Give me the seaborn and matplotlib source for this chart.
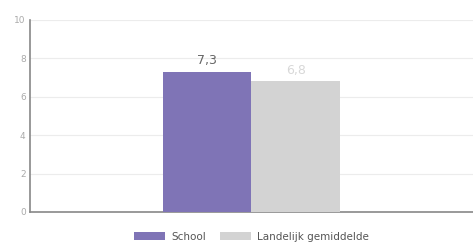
import matplotlib
matplotlib.use("Agg")
import matplotlib.pyplot as plt
import seaborn as sns
import pandas as pd

series = ["School", "Landelijk gemiddelde"]
values = [7.3, 6.8]
label_text = ["7,3", "6,8"]
colors = ["#7f74b6", "#d3d3d3"]
label_colors = ["#666666", "#d8d8d8"]

sns.set_theme(style="white")
plt.rcParams["font.family"] = ["DejaVu Sans"]

df = pd.DataFrame({"groep": ["" for _ in series], "reeks": series, "cijfer": values})

fig = plt.figure(figsize=(4.73, 2.49), dpi=100)
ax = fig.add_axes([0.063, 0.149, 0.937, 0.771])

sns.barplot(data=df, x="groep", y="cijfer", hue="reeks", palette=colors,
            width=0.4, saturation=1, linewidth=0, ax=ax, zorder=3)

for p, t, c in zip(ax.patches, label_text, label_colors):
    ax.text(p.get_x() + p.get_width() / 2, p.get_height() + 0.25, t,
            ha="center", va="bottom", fontsize=9, color=c)

ax.set_ylim(0, 10)
ax.set_xlim(-0.5, 0.5)
ax.set_yticks([0, 2, 4, 6, 8, 10])
ax.yaxis.grid(True, color="#ececec", linewidth=0.8, zorder=0)
ax.tick_params(axis="y", labelsize=6.5, colors="#aaaaaa", length=0, pad=3)
ax.tick_params(axis="x", length=0)
ax.set_xticklabels([])
ax.set_xlabel("")
ax.set_ylabel("")
for s in ["top", "right"]:
    ax.spines[s].set_visible(False)
ax.spines["left"].set_color("#888888")
ax.spines["bottom"].set_color("#888888")
ax.spines["left"].set_linewidth(1.2)
ax.spines["bottom"].set_linewidth(1.2)

leg = ax.legend(loc="upper center", bbox_to_anchor=(0.5, -0.075), ncol=2,
                frameon=False, fontsize=7.5, handlelength=3.0, handleheight=0.9,
                columnspacing=1.3, handletextpad=0.6, borderpad=0)
for t in leg.get_texts():
    t.set_color("#555555")

fig.savefig("out.png", dpi=100)
